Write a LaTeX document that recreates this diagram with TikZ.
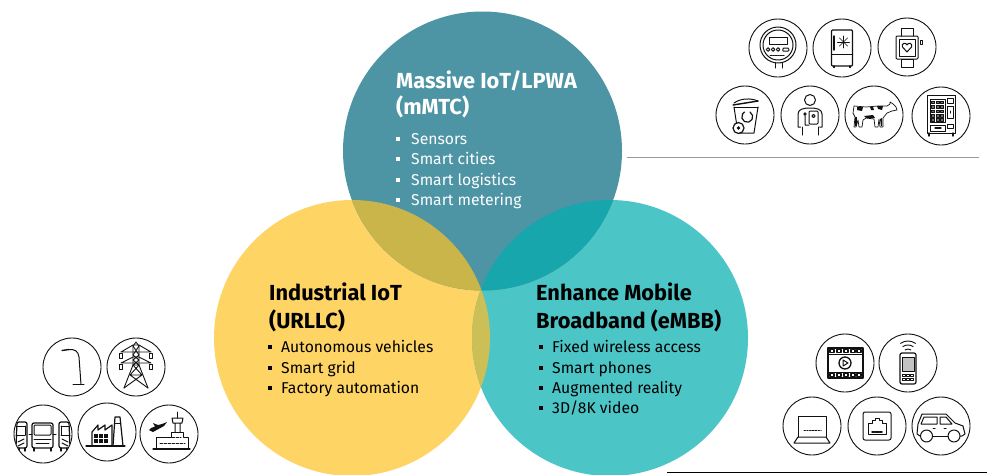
\documentclass[tikz,border=0pt]{standalone}
\usepackage{fontspec}
\setmainfont{Fira Sans}
\definecolor{ctop}{HTML}{4D95A5}
\definecolor{cleft}{HTML}{FED465}
\definecolor{cright}{HTML}{4CC5C7}
\definecolor{ctl}{HTML}{C9B54A}
\definecolor{ctr}{HTML}{16A6AC}
\definecolor{clr}{HTML}{CCBF55}
\definecolor{ink}{HTML}{111111}
\tikzset{
  vennc/.style={circle,minimum size=276pt,inner sep=0pt},
  iconc/.style={circle,draw=ink,line width=0.9pt,minimum size=58pt,inner sep=0pt},
  ic/.style={draw=ink,line width=1pt,line join=round,line cap=round},
  head/.style={anchor=base west,inner sep=0pt,font=\fontsize{21.8}{24}\selectfont\bfseries,text=#1},
  item/.style={anchor=base west,inner sep=0pt,font=\fontsize{15.7}{18}\selectfont,text=#1},
  bul/.style={fill=#1,minimum size=4pt,inner sep=0pt,anchor=center},
}
\newcommand{\lst}[6]{% bullet x, text x, baseline, colour, name, text
  \node[bul=#4] (b#5) at (#1,#3-5.5) {};
  \node[item=#4] (t#5) at (#2,#3) {#6};}
\begin{document}
\begin{tikzpicture}[x=1pt,y=-1pt]
\useasboundingbox (0,0) rectangle (987,474);
\fill[white] (0,0) rectangle (987,474);
% Venn
\node[vennc,fill=cleft] (L) at (352,338) {};
\node[vennc,fill=cright] (R) at (610,338) {};
\node[vennc,fill=ctop,minimum size=279pt] (T) at (482.5,151) {};
\begin{scope}
  \clip (352,338) circle (138);
  \fill[ctl] (482.5,151) circle (139.5);
\end{scope}
\begin{scope}
  \clip (610,338) circle (138);
  \fill[ctr] (482.5,151) circle (139.5);
\end{scope}
\begin{scope}
  \clip (352,338) circle (138);
  \fill[clr] (610,338) circle (138);
\end{scope}
% Text
\node[head=white] (h1) at (396,88) {Massive IoT/LPWA};
\node[head=white] (h1b) at (396,114.5) {(mMTC)};
\lst{398}{411}{144}{white}{a1}{Sensors}
\lst{398}{411}{164.5}{white}{a2}{Smart cities}
\lst{398}{411}{185}{white}{a3}{Smart logistics}
\lst{398}{411}{205.5}{white}{a4}{Smart metering}
\node[head=black] (h2) at (269,300) {Industrial IoT};
\node[head=black] (h2b) at (269,328) {(URLLC)};
\lst{270}{281}{352}{black}{b1}{Autonomous vehicles}
\lst{270}{281}{373}{black}{b2}{Smart grid}
\lst{270}{281}{393}{black}{b3}{Factory automation}
\node[head=black] (h3) at (536,300) {Enhance Mobile};
\node[head=black] (h3b) at (536,328) {Broadband (eMBB)};
\lst{541}{552}{352}{black}{c1}{Fixed wireless access}
\lst{541}{552}{373}{black}{c2}{Smart phones}
\lst{541}{552}{393}{black}{c3}{Augmented reality}
\lst{541}{552}{413}{black}{c4}{3D/8K video}
% rules
\coordinate (g1) at (627,157); \coordinate (g2) at (979,157);
\draw[gray!80,line width=0.9pt] (g1) -- (g2);
\coordinate (k1) at (667,472.5); \coordinate (k2) at (987,472.5);
\draw[black,line width=0.9pt] (k1) -- (k2);
% icon circles
\foreach \n/\x/\y in {meter/778/48,fridge/842/48,watch/907/47,bin/745/115,person/810/115,cow/874/115,vend/941/116,
 lamp/72/367,tower/136/367,trucks/43/434,factory/107/432,airport/169/434,
 film/845/363,remote/908/363,laptop/812/426,eth/877/426,car/941/426}
  \node[iconc] (\n) at (\x,\y) {};
% meter
\begin{scope}[shift={(meter.center)},ic]
  \draw (0,-3) circle (18); \draw (0,-3) circle (15);
  \draw (-9,-11) rectangle (9,-4);
  \foreach \a in {-10,-5,0} \draw (\a,1.5) circle (1.8);
  \draw (5,3) .. controls (4,0) and (7,-1) .. (8,0) .. controls (11,-1) and (12,3) .. (10,3) -- cycle;
  \draw[dash pattern=on 1.5pt off 1pt] (-8,7) -- (7,7);
  \draw (-3,15) -- (-3,20) (4,15) -- (4,20);
\end{scope}
% fridge
\begin{scope}[shift={(fridge.center)},ic]
  \draw[rounded corners=1pt,line width=1.2pt] (-10.5,-18) rectangle (10.5,18);
  \draw (-10.5,6) -- (10.5,6);
  \draw[line width=1.4pt] (-8,-12) -- (-8,2);
  \foreach \a in {0,45,90,135} \draw[line width=0.6pt] (1.5,-6) ++(\a:-6) -- ++(\a:12);
  \draw[line width=1.4pt] (-8,18) -- (-8,19.5) (8,18) -- (8,19.5);
\end{scope}
% watch
\begin{scope}[shift={(watch.center)},ic]
  \draw[rounded corners=1pt] (-11,-11) rectangle (11,12);
  \draw (-6,-11) -- (-6,-19) -- (6,-19) -- (6,-11);
  \draw (-6,12) rectangle (6,20);
  \draw (-8,-8) rectangle (8,9);
  \draw (0,5) -- (-4.5,0) .. controls (-6,-4) and (-1,-5) .. (0,-2) .. controls (1,-5) and (6,-4) .. (4.5,0) -- cycle;
  \draw (13,-7) rectangle (15,-3);
\end{scope}
% bin
\begin{scope}[shift={(bin.center)},ic]
  \draw (-11,-8) -- (13,-8);
  \draw (-11,-8) -- (-7,18) -- (9,18) -- (13,-8);
  \draw[line width=1.4pt] (-12,-10) -- (13,-14);
  \draw (-11,-12) .. controls (-4,-17) and (6,-17) .. (13,-14);
  \draw[line width=1.2pt] (5,-3) arc (-60:240:5.5);
  \draw[fill=white,line width=1.2pt] (-6.5,13) circle (5.5);
  \fill[ink] (-6.5,13) circle (1.8);
\end{scope}
% person
\begin{scope}[shift={(person.center)},ic]
  \draw (0,-15) circle (5.5);
  \draw (-8,20) -- (-8,12) (8,20) -- (8,12);
  \draw (-9.5,12) -- (-12,12) -- (-12,-1) .. controls (-12,-6) and (-6,-7) .. (0,-7) .. controls (6,-7) and (12,-6) .. (12,-1) -- (12,12) -- (9.5,12);
  \draw[rounded corners=1pt] (-1,-4) rectangle (8,9);
  \draw (3.5,1) circle (1.6);
  \draw (-5,-1) circle (1.2) (-5,0) -- (-5,10) -- (-1,10);
\end{scope}
% cow
\begin{scope}[shift={(cow.center)},ic,line width=0.7pt]
  \draw (-20,-9) -- (-8,-8) -- (4,-9) -- (9,-9) -- (13,-9) -- (16,-11) -- (16,-13) -- (19,-11) -- (22,-8) -- (23,-5) -- (18,-4) -- (13,-2) -- (9,3) -- (9,12) -- (6,12) -- (5,4) -- (4,12) -- (1,12) -- (0,4) -- (-8,3) -- (-11,5) -- (-12,12) -- (-15,12) -- (-16,5) -- (-18,12) -- (-20,12) -- (-19,2) -- (-21,-2) -- cycle;
  \fill[ink] (-17,-8) -- (-11,-8) -- (-12,-4) -- (-17,-5) -- cycle;
  \fill[ink] (-4,-8) -- (-1,-8) -- (0,-5) -- (-3,-5) -- cycle;
  \fill[ink] (3,-9) -- (9,-9) -- (8,-5) -- (4,-6) -- cycle;
  \fill[ink] (-10,1) -- (-1,0) -- (1,3) -- (-8,3) -- cycle;
  \fill[ink] (-19,2) -- (-17,2) -- (-17,11) -- (-19,11) -- cycle;
  \fill[ink] (6,4) -- (8,3) -- (8,11) -- (7,11) -- cycle;
\end{scope}
% vending
\begin{scope}[shift={(vend.center)},ic]
  \draw (-14,-21) rectangle (14,17);
  \draw (-11,-17) rectangle (4,6);
  \foreach \a in {-9.5,-5,-0.5} \foreach \b in {-15,-10.5,-6,-1.5,2.5} \draw[line width=0.5pt,fill=ink!60] (\a,\b) rectangle ++(3,2.5);
  \draw (6,-18) rectangle (12,-13);
  \draw (6,-10) rectangle (12,2);
  \draw (-11,9) rectangle (4,15) (6,8) rectangle (12,12);
  \draw[line width=1.2pt] (-6,12) -- (0,12);
  \draw[line width=1.4pt] (-12,17) -- (-12,20) (12,17) -- (12,20);
  \draw (9,-5) -- (9,-3);
\end{scope}
% lamp
\begin{scope}[shift={(lamp.center)},ic]
  \draw (1,17.5) -- (12,17.5);
  \draw (9,17.5) -- (7,-10) .. controls (6.5,-16) and (2,-18) .. (-3,-17.5);
  \draw[line width=1.4pt] (-10,-16.5) -- (-3,-17.5);
\end{scope}
% tower
\begin{scope}[shift={(tower.center)},ic,line width=0.9pt]
  \draw (-12,21) -- (-3,-2) -- (-3,-21) -- (0,-25) -- (3,-21) -- (3,-2) -- (12,21);
  \draw (-3,-2) -- (3,-2) (-3,-21) -- (3,-12) -- (-3,-7) -- (3,-2) (3,-21) -- (-3,-12) -- (3,-7) -- (-3,-2);
  \draw (-6,8) -- (6,8) (-12,21) -- (6,8) -- (-3,-2) (12,21) -- (-6,8) -- (3,-2);
  \draw (-15,-15) -- (15,-15) -- (3,-22) -- (-3,-22) -- cycle;
  \draw (-15,-4) -- (15,-4) -- (3,-10) -- (-3,-10) -- cycle;
  \foreach \a in {-15,15} {\draw (\a-1.5,-14) rectangle (\a+1.5,-9); \draw (\a-1.5,-3) rectangle (\a+1.5,2);}
\end{scope}
% trucks
\begin{scope}
  \clip (trucks.center) circle (28.5);
  \begin{scope}[shift={(trucks.center)},ic]
    \draw[line width=1.2pt,rounded corners=2pt] (-11,-11) rectangle (10,14);
    \draw[rounded corners=1pt,line width=1pt] (-9,-9) rectangle (8,1);
    \draw (-9,5) -- (8,5) (-7,9) -- (6,9);
    \draw[line width=1.4pt] (-9,14) -- (-9,17) (8,14) -- (8,17);
    \draw (-14,0) -- (-11,0) (13,0) -- (10,0);
    \foreach \s in {-1,1}{
      \draw[line width=1.2pt,rounded corners=2pt] (\s*16,-12) -- (\s*26,-12) -- (\s*27,14) -- (\s*16,14) -- cycle;
      \draw (\s*18,-8) -- (\s*27,-8) (\s*18,1) -- (\s*27,1) (\s*18,-8) -- (\s*18,1);
      \draw (\s*19,5) -- (\s*25,8) (\s*19,9) -- (\s*25,12);
      \draw[line width=1.4pt] (\s*18,14) -- (\s*18,17) (\s*24,14) -- (\s*24,17);
    }
  \end{scope}
\end{scope}
% factory
\begin{scope}[shift={(factory.center)},ic]
  \draw[line width=1.3pt] (-21,14) -- (18,14);
  \draw[line width=1.2pt] (-15,14) -- (-15,0) -- (-9,-7) -- (-9,-2) -- (-2,-7) -- (-2,-2) -- (5,-7) -- (5,14);
  \draw[line width=1.2pt] (6,14) -- (8,-15) -- (13,-15) -- (16,14);
  \draw (7.5,-9) -- (13.5,-9);
  \foreach \a in {-13,-8,-3} \foreach \b in {2,7} \fill[ink] (\a,\b) rectangle ++(4,4);
\end{scope}
% airport
\begin{scope}[shift={(airport.center)},ic]
  \draw[line width=1.2pt] (-16,15) -- (21,15);
  \draw (-13,15) -- (-13,3) -- (2,3) -- (2,-2) -- (14,-2) -- (14,3) -- (19,3) -- (19,15);
  \draw (6,-2) -- (6,-11) (11,-2) -- (11,-11) (4,-11) -- (13,-11) -- (14,-16) -- (3,-16) -- cycle;
  \draw (8.5,-16) -- (8.5,-22);
  \draw[dash pattern=on 2.5pt off 1.5pt] (-9,9) -- (16,9) (3,3) -- (12,3);
  \fill[ink] (-20,-4) -- (-16,-2) -- (-5,-8) -- (-2,-12) -- (-7,-10) -- (-11,-9) -- (-16,-11) -- (-14,-7.5) -- (-18,-6) -- cycle;
\end{scope}
% film
\begin{scope}[shift={(film.center)},ic]
  \draw[line width=1.2pt] (-17,-15) rectangle (18,15);
  \draw (-17,-9) -- (18,-9) (-17,9) -- (18,9);
  \foreach \a in {-15,-8,-1,6,12} {\draw[line width=1.1pt] (\a,-13.5) rectangle ++(4,3); \draw[line width=1.1pt] (\a,10.5) rectangle ++(4,3);}
  \draw[line width=1.3pt] (0,0) circle (6);
  \draw (-2,-3) -- (3,0) -- (-2,3) -- cycle;
\end{scope}
% remote
\begin{scope}[shift={(remote.center)},ic]
  \draw[rounded corners=2pt,line width=1.2pt] (-8,-10) rectangle (8,21);
  \draw[fill=ink!25] (-6,-6) rectangle (6,8);
  \foreach \a in {-5.5,-1.5,2.5} \foreach \b in {11,15} \draw[line width=0.5pt] (\a,\b) rectangle ++(3,2.5);
  \coordinate (wv) at (0,-9);
  \foreach \r in {5,9,13} \draw[line width=0.9pt] (wv) ++(235:\r) arc (235:305:\r);
\end{scope}
% laptop
\begin{scope}[shift={(laptop.center)},ic]
  \draw (-14,11) -- (-14,-10) -- (14,-10) -- (14,11);
  \draw (-18,17) -- (-14,11) -- (14,11) -- (18,17) -- cycle;
  \draw[dash pattern=on 1.4pt off 1.4pt,line width=1pt] (-8,4) -- (9,4);
\end{scope}
% ethernet
\begin{scope}[shift={(eth.center)},ic]
  \draw[rounded corners=2pt] (-14,-14) rectangle (14,14);
  \draw (-9,8) -- (-9,-3) -- (-5,-3) -- (-5,-6) -- (-2,-6) -- (-2,-8) -- (2,-8) -- (2,-6) -- (5,-6) -- (5,-3) -- (9,-3) -- (9,8) -- cycle;
  \draw[dash pattern=on 0.8pt off 0.8pt,line width=1.5pt] (-5,6) -- (5,6);
\end{scope}
% car
\begin{scope}[shift={(car.center)},ic]
  \draw (-21,10) -- (-24,8) -- (-23,-2) -- (-19,-12) -- (5,-12) -- (14,-3) -- (22,0) -- (24,8) -- (21,10) -- (19,10);
  \draw (7,10) -- (-8,10);
  \draw (-14.5,10) circle (6) (13,10) circle (6);
  \draw (-17,-9) -- (-4,-9) -- (-4,-2) -- (-20,-2) -- cycle;
  \draw (-1,-9) -- (5,-9) -- (11,-2) -- (-1,-2) -- cycle;
  \draw (-8,2) -- (-6,2) (3,2) -- (5,2);
\end{scope}
\end{tikzpicture}
\end{document}
